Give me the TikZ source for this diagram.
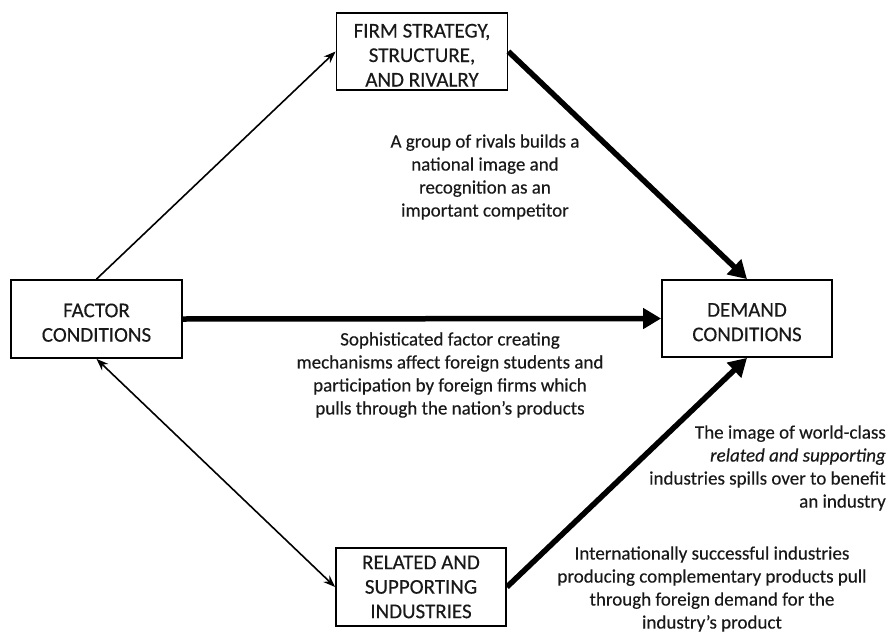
\documentclass[tikz,border=0pt]{standalone}
\usepackage{fontspec}
\setmainfont{Carlito}[UprightFeatures={FakeBold=0.35},ItalicFeatures={FakeBold=0.35}]
\usetikzlibrary{arrows.meta}
\begin{document}
\begin{tikzpicture}[x=1pt,y=-1pt,
  box/.style={draw, line width=1.8pt, align=center, inner sep=0pt,
    font=\fontsize{21}{24.5}\selectfont, text=black!90},
  note/.style={align=center, inner sep=0pt, font=\fontsize{19}{23}\selectfont, text=black!90},
  thin/.style={line width=1.6pt, -{Stealth[length=12pt,width=9pt]}},
  bold/.style={line width=5.5pt, -{Triangle[length=18pt,width=20pt]}}]
\useasboundingbox (0,0) rectangle (891,634);
% the four boxes
\node[box, minimum width=171pt, minimum height=77pt] (firm) at (422,51.5) {\rule{0pt}{21pt}FIRM STRATEGY,\\STRUCTURE,\\AND RIVALRY};
\node[box, minimum width=171pt, minimum height=78pt] (factor) at (96.5,319) {\rule{0pt}{21pt}FACTOR\\CONDITIONS};
\node[box, minimum width=170pt, minimum height=77pt] (demand) at (747,318.5) {\rule{0pt}{21pt}DEMAND\\CONDITIONS};
\node[box, minimum width=170pt, minimum height=78pt] (related) at (421,587) {RELATED AND\\SUPPORTING\\INDUSTRIES};
% connectors
\draw[thin] (factor.north) -- (firm.west);
\draw[thin, {Stealth[length=12pt,width=9pt]}-{Stealth[length=12pt,width=9pt]}] (factor.south) -- (related.west);
\draw[bold] (firm.east) -- (demand.north);
\draw[bold] (factor.east) -- (demand.west);
\draw[bold] (related.east) -- (demand.south);
% annotations
\node[note] (n1) at (485,177) {A group of rivals builds a\\national image and\\recognition as an\\important competitor};
\node[note] (n2) at (450,375) {Sophisticated factor creating\\mechanisms affect foreign students and\\participation by foreign firms which\\pulls through the nation’s products};
\node[note, align=right, anchor=east] (n3) at (886,468) {The image of world-class\\\textit{related and supporting}\\industries spills over to benefit\\an industry};
\node[note] (n4) at (712,589) {Internationally successful industries\\producing complementary products pull\\through foreign demand for the\\industry’s product};
\end{tikzpicture}
\end{document}
